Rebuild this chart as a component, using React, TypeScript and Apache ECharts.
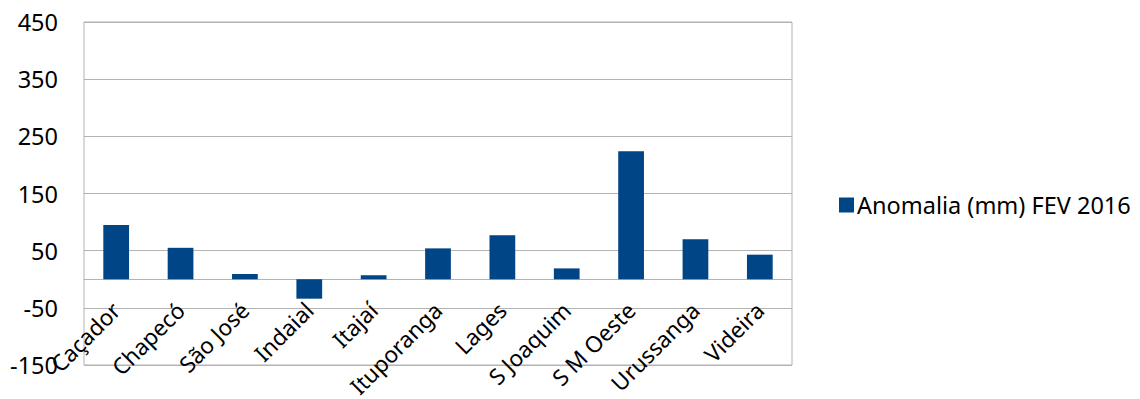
import React, { useEffect, useRef } from "react";
import * as echarts from "echarts";

const categories = ["Caçador", "Chapecó", "São José", "Indaial", "Itajaí", "Ituporanga", "Lages", "S Joaquim", "S M Oeste", "Urussanga", "Videira"];
const anomalia = [95, 55, 9, -34, 7, 54, 77, 19, 224, 70, 43];
const seriesName = "Anomalia (mm) FEV 2016";

const FONT = "Noto Sans";
const FS = 23.5;
const Y_MIN = -150;
const Y_MAX = 450;
const GRID_H = 343;

export default function App() {
  const ref = useRef<HTMLDivElement>(null);
  useEffect(() => {
    const chart = echarts.init(ref.current!, null, { renderer: "svg" });
    const zeroOffset = -(0 - Y_MIN) / (Y_MAX - Y_MIN) * GRID_H;
    chart.setOption({
      animation: false,
      textStyle: { fontFamily: FONT },
      grid: { left: 84, top: 22, width: 708, height: GRID_H, show: true, borderColor: "#b3b3b3", borderWidth: 1, containLabel: false, outerBoundsMode: "none" },
      legend: {
        data: [{ name: seriesName, icon: "rect" }],
        left: 834,
        top: 188,
        itemWidth: 15,
        itemHeight: 15,
        itemGap: 6,
        textStyle: { fontFamily: FONT, fontSize: FS, color: "#000", padding: [0, 0, 0, -2] },
      },
      xAxis: {
        type: "category",
        data: categories,
        position: "bottom",
        offset: zeroOffset,
        axisLine: { onZero: false, lineStyle: { color: "#b3b3b3", width: 1 } },
        axisTick: { show: false },
        axisLabel: { rotate: 45, fontFamily: FONT, fontSize: 22.5, color: "#000", margin: 27, interval: 0 },
        splitLine: { show: false },
      },
      yAxis: {
        type: "value",
        min: Y_MIN,
        max: Y_MAX,
        interval: 100,
        axisLine: { show: false },
        axisTick: { show: false },
        axisLabel: { fontFamily: FONT, fontSize: FS, color: "#000", margin: 26 },
        splitLine: { show: true, lineStyle: { color: "#b3b3b3", width: 1 } },
      },
      series: [
        {
          name: seriesName,
          type: "bar",
          data: anomalia,
          barWidth: "40%",
          itemStyle: { color: "#004586" },
        },
      ],
    });
    return () => chart.dispose();
  }, []);
  return <div ref={ref} style={{ position: "absolute", left: 0, top: 0, width: 1140, height: 399 }} />;
}
